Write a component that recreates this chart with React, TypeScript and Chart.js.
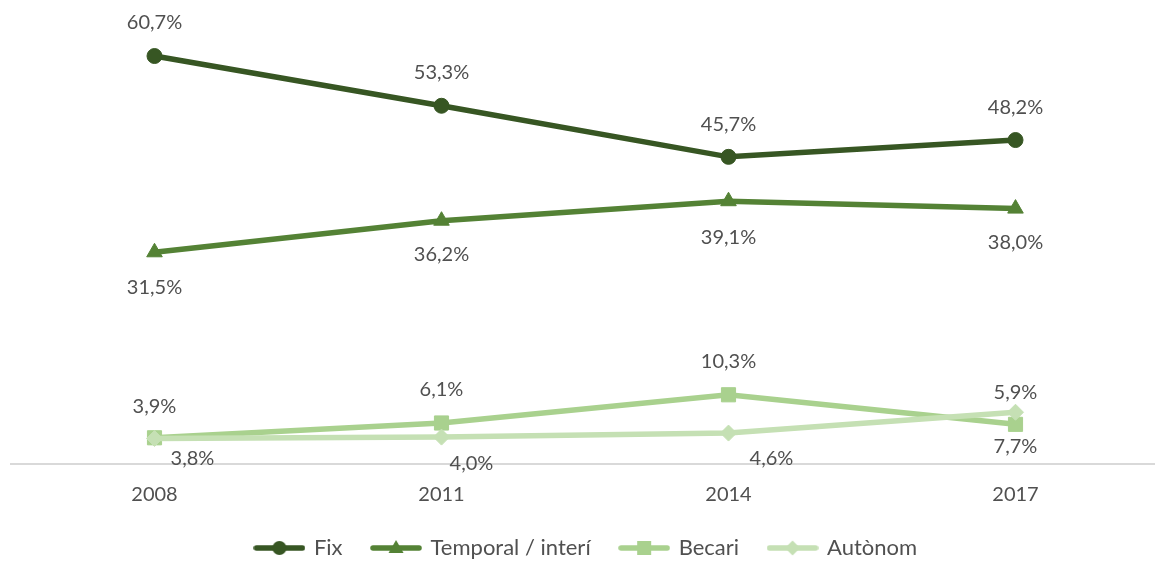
import React, { useEffect, useRef } from "react";
import { Chart, registerables } from "chart.js";

Chart.register(...registerables);

const categories = ["2008", "2011", "2014", "2017"];
const seriesNames = ["Fix", "Temporal / interí", "Becari", "Autònom"];
const fixValues = [60.7, 53.3, 45.7, 48.2];
const temporalValues = [31.5, 36.2, 39.1, 38.0];
const becariValues = [3.9, 6.1, 10.3, 5.9];
const autonomValues = [3.8, 4.0, 4.6, 7.7];

const colors = ["#375623", "#548235", "#A9D18E", "#C5E0B4"];
const markerStyles = ["circle", "triangle", "rect", "rectRot"];
const markerRadii = [7.5, 9, 10, 8];
// label nudges (style only)
const labelDy = [
  [-33, -33, -32, -32],
  [35, 34, 36, 34],
  [-31, -33, -33, -32],
  [20, 26, 25, 34],
];
const labelDx = [
  [0, 0, 0, 0],
  [0, 0, 0, 0],
  [0, 0, 0, 0],
  [38, 30, 43, 0],
];

const FONT = "Lato, 'Open Sans', sans-serif";
const TEXT_COLOR = "#505050";

function fmt(v: number) {
  return v.toFixed(1).replace(".", ",") + "%";
}

function makeLegendImage(color: string, style: string) {
  const c = document.createElement("canvas");
  c.width = 52;
  c.height = 20;
  const ctx = c.getContext("2d")!;
  ctx.strokeStyle = color;
  ctx.fillStyle = color;
  ctx.lineWidth = 5.5;
  ctx.lineCap = "round";
  ctx.beginPath();
  ctx.moveTo(3, 10);
  ctx.lineTo(49, 10);
  ctx.stroke();
  const cx = 26;
  const cy = 10;
  ctx.beginPath();
  if (style === "circle") {
    ctx.arc(cx, cy, 7, 0, Math.PI * 2);
  } else if (style === "triangle") {
    ctx.moveTo(cx, cy - 8);
    ctx.lineTo(cx + 7.5, cy + 5);
    ctx.lineTo(cx - 7.5, cy + 5);
    ctx.closePath();
  } else if (style === "rect") {
    ctx.rect(cx - 7, cy - 7, 14, 14);
  } else {
    ctx.moveTo(cx, cy - 7.5);
    ctx.lineTo(cx + 7.5, cy);
    ctx.lineTo(cx, cy + 7.5);
    ctx.lineTo(cx - 7.5, cy);
    ctx.closePath();
  }
  ctx.fill();
  return c;
}

const valueLabelPlugin = {
  id: "valueLabels",
  afterDatasetsDraw(chart: any) {
    const ctx = chart.ctx;
    ctx.save();
    ctx.font = `20px ${FONT}`;
    ctx.fillStyle = TEXT_COLOR;
    ctx.textAlign = "center";
    ctx.textBaseline = "middle";
    chart.data.datasets.forEach((ds: any, di: number) => {
      const meta = chart.getDatasetMeta(di);
      meta.data.forEach((pt: any, i: number) => {
        const v = ds.data[i];
        ctx.fillText(fmt(v), pt.x + labelDx[di][i], pt.y + labelDy[di][i]);
      });
    });
    ctx.restore();
  },
};

export default function App() {
  const ref = useRef<HTMLCanvasElement>(null);
  useEffect(() => {
    const seriesValues = [fixValues, temporalValues, becariValues, autonomValues];
    const images = colors.map((c, i) => makeLegendImage(c, markerStyles[i]));
    const chart = new Chart(ref.current!, {
      type: "line",
      data: {
        labels: categories,
        datasets: seriesValues.map((vals, i) => ({
          label: seriesNames[i],
          data: vals,
          borderColor: colors[i],
          backgroundColor: colors[i],
          borderWidth: 5.5,
          pointStyle: markerStyles[i] as any,
          pointRadius: markerRadii[i],
          pointBorderWidth: 1,
          pointBackgroundColor: colors[i],
          pointBorderColor: colors[i],
          tension: 0,
          order: 3 - i,
        })),
      },
      plugins: [valueLabelPlugin],
      options: {
        responsive: false,
        animation: false,
        devicePixelRatio: 1,
        layout: { padding: { left: 11, right: 8, top: 0, bottom: 2 } },
        scales: {
          x: {
            type: "category",
            offset: true,
            grid: { display: false, drawTicks: false },
            border: { display: true, color: "#D9D9D9", width: 2 },
            ticks: {
              color: TEXT_COLOR,
              font: { family: FONT, size: 20 },
              padding: 19,
            },
            afterFit: (scale: any) => {
              scale.height = scale.height - 19;
            },
          },
          y: {
            display: false,
            min: 0,
            max: 67.4,
          },
        },
        plugins: {
          tooltip: { enabled: false },
          legend: {
            position: "bottom",
            labels: {
              color: TEXT_COLOR,
              font: { family: FONT, size: 22 },
              usePointStyle: true,
              pointStyleWidth: 47,
              padding: 30,
              sort: (a: any, b: any) => a.datasetIndex - b.datasetIndex,
              generateLabels: (chart: any) => {
                const items = (Chart.defaults as any).plugins.legend.labels.generateLabels(chart);
                return items.map((it: any) => ({
                  ...it,
                  pointStyle: images[it.datasetIndex],
                }));
              },
            },
          },
        },
      },
    });
    return () => chart.destroy();
  }, []);
  return (
    <div
      style={{
        position: "absolute",
        left: 0,
        top: 0,
        width: 1155,
        height: 561,
        overflow: "hidden",
        background: "#fff",
      }}
    >
      <canvas ref={ref} width={1170} height={571} style={{ display: "block" }} />
    </div>
  );
}
